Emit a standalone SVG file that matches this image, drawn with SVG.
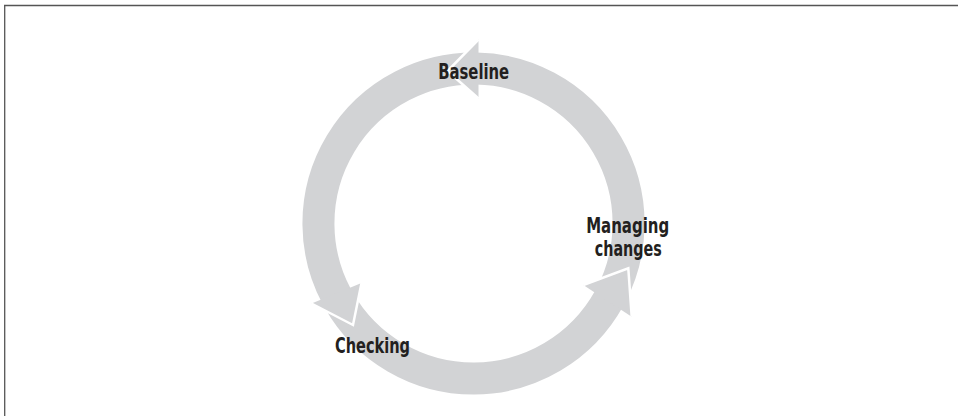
<svg xmlns="http://www.w3.org/2000/svg" width="958" height="416" viewBox="0 0 958 416">
  <style>
    .body { fill: none; stroke: #d2d3d5; stroke-width: 32; stroke-linecap: butt; }
    .head { fill: #d2d3d5; stroke: none; }
    .gap { fill: none; stroke: #ffffff; stroke-width: 2.5; stroke-linejoin: miter; }
    .label { font-family: 'Liberation Sans Narrow', 'DejaVu Sans Condensed', 'DejaVu Sans', sans-serif; font-weight: bold; font-size: 21px; fill: #231f20; text-anchor: middle; }
    .frame { stroke: #555555; stroke-width: 1.3; fill: none; }
  </style>
  <rect width="958" height="416" fill="#ffffff"/>
  <g id="frame">
    <line class="frame" x1="4" y1="5.5" x2="958" y2="5.5"/>
    <line class="frame" x1="4.7" y1="5" x2="4.7" y2="416"/>
  </g>
  <g id="connectors">
    <path class="body" d="M 610.4 296.3 A 155 155 0 0 0 476.2 68.5"/>
    <path class="body" d="M 473.5 68.5 A 155 155 0 0 0 336.6 296.3"/>
    <path class="body" d="M 338.6 299.8 A 155 155 0 0 0 609.1 298.6"/>
    <polygon class="head" points="478.5,39.5 447.5,71 478.5,98.5"/>
    <polyline class="gap" points="478.5,39.5 447.5,71 478.5,98.5"/>
    <polygon class="head" points="311.5,303.5 353,325 361.5,283"/>
    <polyline class="gap" points="311.5,303.5 353,325 361.5,283"/>
    <polygon class="head" points="583.3,285 628.3,268.3 631.7,316.7"/>
    <polyline class="gap" points="583.3,285 628.3,268.3 631.7,316.7"/>
  </g>
  <g id="node-baseline">
    <text class="label" x="473.7" y="79" textLength="71" lengthAdjust="spacingAndGlyphs">Baseline</text>
  </g>
  <g id="node-managing-changes">
    <text class="label" x="627.7" y="233" textLength="83" lengthAdjust="spacingAndGlyphs">Managing</text>
    <text class="label" x="628.3" y="256" textLength="67" lengthAdjust="spacingAndGlyphs">changes</text>
  </g>
  <g id="node-checking">
    <text class="label" x="372.5" y="353.3" textLength="75" lengthAdjust="spacingAndGlyphs">Checking</text>
  </g>
</svg>
